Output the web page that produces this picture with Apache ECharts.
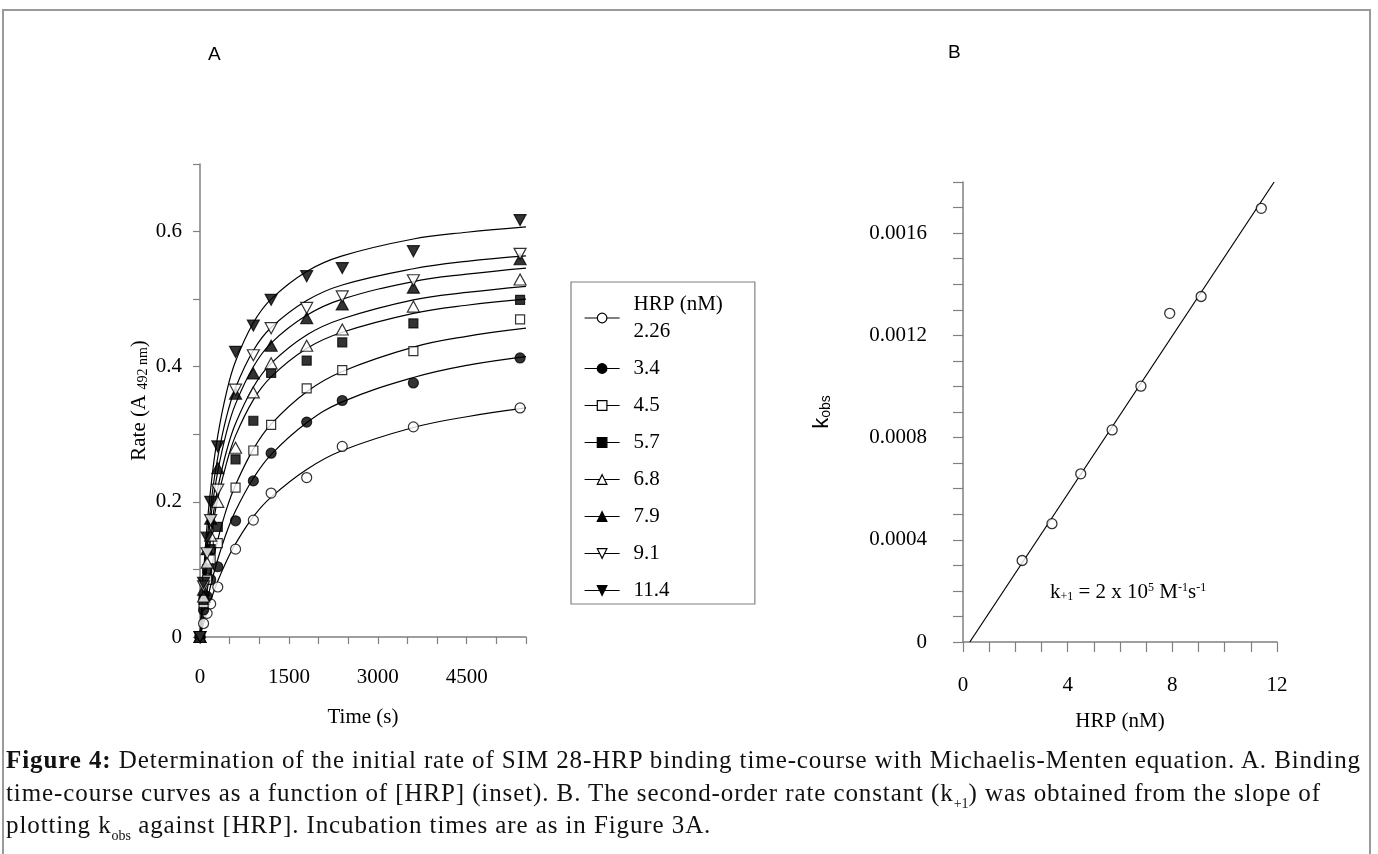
<!DOCTYPE html>
<html>
<head>
<meta charset="utf-8">
<title>Figure 4</title>
<script src="https://cdn.jsdelivr.net/npm/echarts@6/dist/echarts.min.js"></script>
<style>
  html, body { margin: 0; padding: 0; background: #fff; }
  #wrap { position: relative; width: 1378px; height: 854px; overflow: hidden; }
  #frame { position: absolute; left: 2px; top: 9px; width: 1369px; height: 900px; border: 2px solid #9a9a9a; border-bottom: none; box-sizing: border-box; }
  #chart { position: absolute; left: 0; top: 0; width: 1378px; height: 854px; }
  #caption { position: absolute; left: 6px; top: 744px; font-family: 'Liberation Serif', serif; font-size: 25px; letter-spacing: 0.9px; line-height: 32.5px; color: #111; white-space: nowrap; }
  #caption sub { font-size: 14px; vertical-align: -7px; line-height: 0; letter-spacing: 0; }
</style>
</head>
<body>
<div id="wrap">
  <div id="frame"></div>
  <div id="chart"></div>
  <div id="caption">
    <b>Figure 4:</b> Determination of the initial rate of SIM 28-HRP binding time-course with Michaelis-Menten equation. A. Binding<br>
    time-course curves as a function of [HRP] (inset). B. The second-order rate constant (k<sub>+1</sub>) was obtained from the slope of<br>
    plotting k<sub>obs</sub> against [HRP]. Incubation times are as in Figure 3A.
  </div>
</div>
<script>
  /* A: binding time-course, measured points */
  var hrpNames = ['2.26', '3.4', '4.5', '5.7', '6.8', '7.9', '9.1', '11.4'];
  var timesA = [0, 60, 120, 180, 300, 600, 900, 1200, 1800, 2400, 3600, 5400];
  var rate2_26 = [0, 0.020, 0.035, 0.049, 0.074, 0.130, 0.173, 0.213, 0.236, 0.282, 0.311, 0.339];
  var rate3_4 = [0, 0.040, 0.060, 0.085, 0.104, 0.172, 0.231, 0.272, 0.318, 0.350, 0.376, 0.413];
  var rate4_5 = [0, 0.050, 0.085, 0.115, 0.139, 0.221, 0.276, 0.314, 0.368, 0.395, 0.423, 0.470];
  var rate5_7 = [0, 0.055, 0.100, 0.130, 0.163, 0.263, 0.320, 0.391, 0.409, 0.436, 0.464, 0.499];
  var rate6_8 = [0, 0.060, 0.110, 0.150, 0.200, 0.280, 0.362, 0.405, 0.431, 0.455, 0.489, 0.529];
  var rate7_9 = [0, 0.070, 0.130, 0.175, 0.250, 0.360, 0.390, 0.431, 0.472, 0.492, 0.517, 0.559];
  var rate9_1 = [0, 0.075, 0.124, 0.173, 0.218, 0.366, 0.417, 0.457, 0.487, 0.504, 0.528, 0.567];
  var rate11_4 = [0, 0.080, 0.147, 0.200, 0.282, 0.422, 0.461, 0.499, 0.534, 0.546, 0.571, 0.617];

  /* A: fitted curves */
  var fitTimesA = [0, 100, 200, 300, 450, 600, 900, 1200, 1800, 2400, 3600, 4500, 5500];
  var fit2_26 = [0, 0.032, 0.059, 0.083, 0.113, 0.138, 0.178, 0.207, 0.248, 0.276, 0.310, 0.326, 0.339];
  var fit3_4 = [0, 0.046, 0.083, 0.115, 0.155, 0.187, 0.235, 0.270, 0.317, 0.348, 0.384, 0.402, 0.415];
  var fit4_5 = [0, 0.059, 0.105, 0.144, 0.190, 0.225, 0.278, 0.315, 0.363, 0.393, 0.429, 0.445, 0.457];
  var fit5_7 = [0, 0.091, 0.156, 0.205, 0.258, 0.298, 0.351, 0.385, 0.427, 0.451, 0.479, 0.491, 0.500];
  var fit6_8 = [0, 0.099, 0.168, 0.220, 0.276, 0.316, 0.370, 0.405, 0.447, 0.471, 0.499, 0.510, 0.519];
  var fit7_9 = [0, 0.113, 0.189, 0.245, 0.304, 0.345, 0.400, 0.435, 0.476, 0.500, 0.526, 0.537, 0.546];
  var fit9_1 = [0, 0.124, 0.208, 0.266, 0.327, 0.369, 0.424, 0.458, 0.498, 0.521, 0.545, 0.556, 0.564];
  var fit11_4 = [0, 0.144, 0.235, 0.298, 0.363, 0.408, 0.465, 0.500, 0.541, 0.564, 0.589, 0.599, 0.607];

  /* B: kobs vs [HRP] */
  var hrpB = [2.26, 3.4, 4.5, 5.7, 6.8, 7.9, 9.1, 11.4];
  var kobsB = [0.000319, 0.000463, 0.000658, 0.000830, 0.001001, 0.001286, 0.001352, 0.001697];
  var fitBx = [0.26, 11.89];
  var fitBy = [0, 0.0018];

  var rates = [rate2_26, rate3_4, rate4_5, rate5_7, rate6_8, rate7_9, rate9_1, rate11_4];
  var fits = [fit2_26, fit3_4, fit4_5, fit5_7, fit6_8, fit7_9, fit9_1, fit11_4];

  var serif = 'Liberation Serif';
  var sans = 'Liberation Sans';
  var axisGray = '#808080';
  var downTri = 'path://M0,0L20,0L10,18Z';
  var marks = [
    {symbol: 'circle', fill: '#fff', size: 10},
    {symbol: 'circle', fill: '#000', size: 10},
    {symbol: 'rect', fill: '#fff', size: 9},
    {symbol: 'rect', fill: '#000', size: 9},
    {symbol: 'triangle', fill: '#fff', size: [12, 11]},
    {symbol: 'triangle', fill: '#000', size: [12, 11]},
    {symbol: downTri, fill: '#fff', size: [12, 11]},
    {symbol: downTri, fill: '#000', size: [12, 11]}
  ];

  function pairs(xs, ys){
    return xs.map(function (x, i){ return [x, ys[i]]; });
  }

  var series = [];
  hrpNames.forEach(function (name, i){
    var m = marks[i];
    var style = {color: m.fill, borderColor: '#000', borderWidth: 1.2};
    /*拟合曲线（图例取自这一条）*/
    series.push({
      name: name,
      type: 'line',
      xAxisIndex: 0,
      yAxisIndex: 0,
      data: pairs(fitTimesA, fits[i]),
      smooth: 0.4,
      showSymbol: false,
      symbol: m.symbol,
      itemStyle: style,
      lineStyle: {color: '#000', width: 1.2},
      silent: true,
      z: 2
    });
    series.push({
      name: name,
      type: 'scatter',
      xAxisIndex: 0,
      yAxisIndex: 0,
      data: pairs(timesA, rates[i]),
      symbol: m.symbol,
      symbolSize: m.size,
      itemStyle: style,
      z: 3
    });
  });
  series.push({
    name: 'fitB',
    type: 'line',
    xAxisIndex: 1,
    yAxisIndex: 1,
    data: pairs(fitBx, fitBy),
    showSymbol: false,
    lineStyle: {color: '#000', width: 1.2},
    z: 2
  });
  series.push({
    name: 'kobs',
    type: 'scatter',
    xAxisIndex: 1,
    yAxisIndex: 1,
    data: pairs(hrpB, kobsB),
    symbol: 'circle',
    symbolSize: 10,
    itemStyle: {color: '#fff', borderColor: '#000', borderWidth: 1.3},
    z: 3
  });

  function axisBase(){
    return {
      type: 'value',
      axisLine: {show: true, lineStyle: {color: axisGray, width: 1.5}},
      axisTick: {show: true, inside: false, lineStyle: {color: axisGray, width: 1.2}},
      splitLine: {show: false},
      axisLabel: {color: '#000', fontFamily: serif, fontSize: 21}
    };
  }

  var xA = axisBase();
  xA.gridIndex = 0; xA.min = 0; xA.max = 5500; xA.interval = 500;
  xA.axisTick.length = 7;
  xA.axisLabel.margin = 30;
  xA.axisLabel.formatter = function (v){ return v % 1500 === 0 ? String(v) : ''; };
  xA.name = 'Time (s)'; xA.nameLocation = 'middle'; xA.nameGap = 70;
  xA.nameTextStyle = {color: '#000', fontFamily: serif, fontSize: 21};

  var yA = axisBase();
  yA.gridIndex = 0; yA.min = 0; yA.max = 0.7; yA.interval = 0.1;
  yA.axisTick.length = 7;
  yA.axisLabel.margin = 18;
  yA.axisLabel.formatter = function (v){
    var r = Math.round(v * 10);
    if(r % 2 !== 0) return '';
    return r === 0 ? '0' : (r / 10).toFixed(1);
  };
  yA.name = 'Rate (A {s|492 nm})'; yA.nameLocation = 'middle'; yA.nameGap = 50; yA.nameRotate = 90;
  yA.nameTextStyle = {color: '#000', fontFamily: serif, fontSize: 21,
    rich: {s: {fontFamily: serif, fontSize: 14, color: '#000', verticalAlign: 'bottom'}}};

  var xB = axisBase();
  xB.gridIndex = 1; xB.min = 0; xB.max = 12; xB.interval = 1;
  xB.axisTick.length = 10;
  xB.axisLabel.margin = 33;
  xB.axisLabel.formatter = function (v){ return v % 4 === 0 ? String(v) : ''; };
  xB.name = 'HRP (nM)'; xB.nameLocation = 'middle'; xB.nameGap = 69;
  xB.nameTextStyle = {color: '#000', fontFamily: serif, fontSize: 21};

  var yB = axisBase();
  yB.gridIndex = 1; yB.min = 0; yB.max = 0.0018; yB.interval = 0.0001;
  yB.axisTick.length = 10;
  yB.axisLabel.margin = 36;
  yB.axisLabel.formatter = function (v){
    var r = Math.round(v * 10000);
    if(r % 4 !== 0) return '';
    return r === 0 ? '0' : v.toFixed(4);
  };
  yB.name = 'k{s|obs}'; yB.nameLocation = 'middle'; yB.nameGap = 130; yB.nameRotate = 90;
  yB.nameTextStyle = {color: '#000', fontFamily: sans, fontSize: 22,
    rich: {s: {fontFamily: sans, fontSize: 14, color: '#000', verticalAlign: 'bottom'}}};

  var option = {
    animation: false,
    backgroundColor: 'transparent',
    title: [
      {text: 'A', left: 203, top: 40, textStyle: {fontFamily: sans, fontSize: 19, fontWeight: 'normal', color: '#000'}},
      {text: 'B', left: 943, top: 38, textStyle: {fontFamily: sans, fontSize: 19, fontWeight: 'normal', color: '#000'}}
    ],
    grid: [
      {left: 200, top: 164, width: 326, height: 473},
      {left: 963, top: 182, width: 314, height: 460}
    ],
    xAxis: [xA, xB],
    yAxis: [yA, yB],
    legend: {
      data: hrpNames,
      orient: 'vertical',
      left: 571,
      top: 282,
      padding: [9, 32, 0, 13],
      itemGap: 10,
      itemWidth: 35,
      itemHeight: 12,
      selectedMode: false,
      borderColor: axisGray,
      borderWidth: 1.2,
      itemStyle: {borderWidth: 1.2},
      lineStyle: {width: 1.2},
      formatter: function (name){ return name === '2.26' ? 'HRP (nM)\n2.26' : name; },
      textStyle: {fontFamily: serif, fontSize: 21, color: '#000', lineHeight: 27, padding: [0, 0, 0, 9]}
    },
    graphic: [{
      type: 'text',
      left: 1050,
      top: 582,
      style: {
        text: 'k{s|+1} = 2 x 10{p|5} M{p|-1}s{p|-1}',
        fontFamily: serif,
        fontSize: 21,
        fill: '#000',
        rich: {
          s: {fontFamily: serif, fontSize: 12, verticalAlign: 'bottom'},
          p: {fontFamily: serif, fontSize: 12, verticalAlign: 'top'}
        }
      }
    }],
    series: series
  };

  var chart = echarts.init(document.getElementById('chart'));
  chart.setOption(option);
</script>
</body>
</html>
